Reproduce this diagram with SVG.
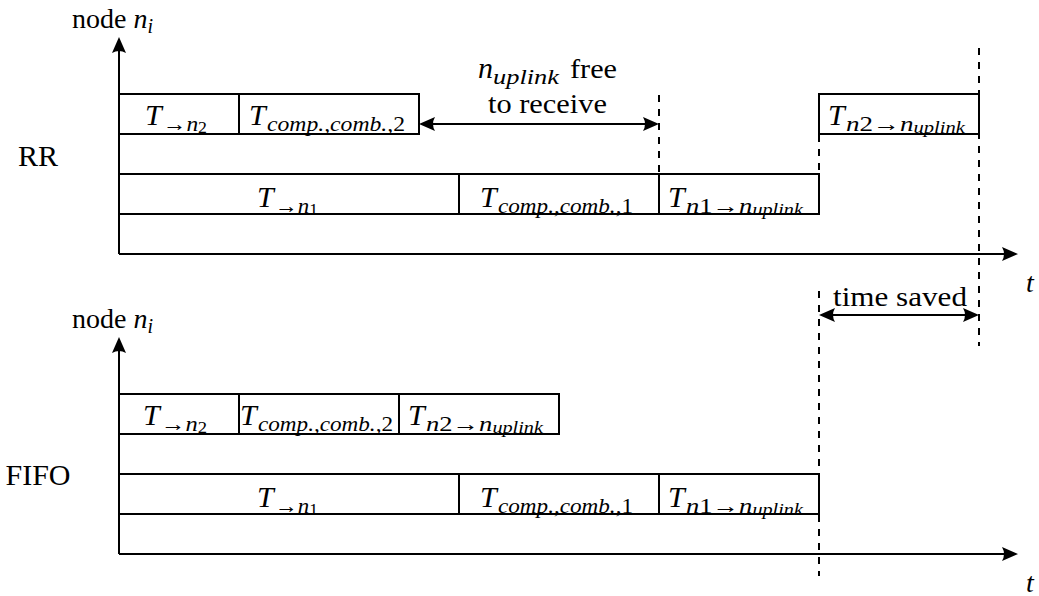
<svg xmlns="http://www.w3.org/2000/svg" width="1039" height="596" viewBox="0 0 1039 596" font-family="'Liberation Serif', 'Times New Roman', serif">
<style>
.box{fill:none;stroke:#000;stroke-width:2}
.ax{fill:none;stroke:#000;stroke-width:2}
.dash{fill:none;stroke:#000;stroke-width:2;stroke-dasharray:7 7}
text{font-family:'Liberation Serif','Times New Roman',serif;fill:#000}
.txt{font-size:28px}
.lbl{font-size:30px}
.m{font-style:italic;font-size:30px}
.s{font-size:21px}
.i{font-style:italic}
.ss{font-size:16px}
</style>
<defs>
<marker id="ah" markerUnits="userSpaceOnUse" markerWidth="20" markerHeight="20" viewBox="-10 -10 20 20" refX="0" refY="0" orient="auto-start-reverse">
<path d="M8,0 L-8,-7 Q-4,0 -8,7 Z" fill="#000"/>
</marker>
</defs>

<g id="labels">
<text class="lbl" x="38" y="166" text-anchor="middle">RR</text>
<text class="lbl" x="38" y="485" text-anchor="middle">FIFO</text>
<text class="txt" x="72" y="28">node <tspan class="i">n</tspan><tspan class="i" font-size="20" dy="5">i</tspan></text>
<text class="txt" x="72" y="328">node <tspan class="i">n</tspan><tspan class="i" font-size="20" dy="5">i</tspan></text>
<text class="txt i" x="1026" y="292">t</text>
<text class="txt i" x="1026" y="592">t</text>
</g>

<g id="connectors">
<line class="ax" x1="119" y1="254" x2="119" y2="45" marker-end="url(#ah)"/>
<line class="ax" x1="119" y1="254" x2="1010" y2="254" marker-end="url(#ah)"/>
<line class="ax" x1="119" y1="554" x2="119" y2="345" marker-end="url(#ah)"/>
<line class="ax" x1="119" y1="554" x2="1010" y2="554" marker-end="url(#ah)"/>
<line class="dash" x1="659" y1="95" x2="659" y2="174"/>
<line class="dash" x1="819" y1="135" x2="819" y2="174"/>
<line class="dash" x1="979" y1="48" x2="979" y2="346"/>
<line class="dash" x1="819" y1="291" x2="819" y2="576"/>
<line class="ax" x1="427" y1="124" x2="651" y2="124" marker-start="url(#ah)" marker-end="url(#ah)"/>
<line class="ax" x1="827" y1="315" x2="971" y2="315" marker-start="url(#ah)" marker-end="url(#ah)"/>
</g>

<g id="free-label">
<text class="m" x="478" y="78">n</text>
<text class="s i" x="493" y="84" textLength="66" lengthAdjust="spacingAndGlyphs">uplink</text>
<text class="txt" x="570" y="78" textLength="47" lengthAdjust="spacingAndGlyphs">free</text>
<text class="txt" x="488" y="113" textLength="119" lengthAdjust="spacingAndGlyphs">to receive</text>
</g>
<g id="saved-label">
<text class="txt" x="833" y="306" textLength="134" lengthAdjust="spacingAndGlyphs">time saved</text>
</g>

<!-- RR -->
<g id="rr-t-n2">
<rect class="box" x="119" y="94" width="120" height="40"/>
<text class="m" x="145" y="125">T</text>
<text class="s" x="163" y="131" textLength="44" lengthAdjust="spacingAndGlyphs">→<tspan class="i">n</tspan><tspan class="ss" dy="2">2</tspan></text>
</g>
<g id="rr-comp2">
<rect class="box" x="239" y="94" width="180" height="40"/>
<text class="m" x="249" y="125">T</text>
<text class="s" x="267" y="131" textLength="138" lengthAdjust="spacingAndGlyphs"><tspan class="i">comp.,comb.,</tspan>2</text>
</g>
<g id="rr-n2-up">
<rect class="box" x="819" y="94" width="160" height="40"/>
<text class="m" x="828" y="125">T</text>
<text class="s" x="846" y="131" textLength="119" lengthAdjust="spacingAndGlyphs"><tspan class="i">n</tspan>2→<tspan class="i">n</tspan><tspan class="i ss" dy="2">uplink</tspan></text>
</g>
<g id="rr-t-n1">
<rect class="box" x="119" y="174" width="340" height="40"/>
<text class="m" x="257" y="207">T</text>
<text class="s" x="275" y="213" textLength="43" lengthAdjust="spacingAndGlyphs">→<tspan class="i">n</tspan><tspan class="ss" dy="2">1</tspan></text>
</g>
<g id="rr-comp1">
<rect class="box" x="459" y="174" width="200" height="40"/>
<text class="m" x="480" y="207">T</text>
<text class="s" x="498" y="213" textLength="135" lengthAdjust="spacingAndGlyphs"><tspan class="i">comp.,comb.,</tspan>1</text>
</g>
<g id="rr-n1-up">
<rect class="box" x="659" y="174" width="160" height="40"/>
<text class="m" x="668" y="207">T</text>
<text class="s" x="686" y="213" textLength="117" lengthAdjust="spacingAndGlyphs"><tspan class="i">n</tspan>1→<tspan class="i">n</tspan><tspan class="i ss" dy="2">uplink</tspan></text>
</g>

<!-- FIFO -->
<g id="fifo-t-n2">
<rect class="box" x="119" y="394" width="120" height="40"/>
<text class="m" x="143" y="425">T</text>
<text class="s" x="161" y="431" textLength="46" lengthAdjust="spacingAndGlyphs">→<tspan class="i">n</tspan><tspan class="ss" dy="2">2</tspan></text>
</g>
<g id="fifo-comp2">
<rect class="box" x="239" y="394" width="160" height="40"/>
<text class="m" x="240" y="425">T</text>
<text class="s" x="258" y="431" textLength="135" lengthAdjust="spacingAndGlyphs"><tspan class="i">comp.,comb.,</tspan>2</text>
</g>
<g id="fifo-n2-up">
<rect class="box" x="399" y="394" width="160" height="40"/>
<text class="m" x="408" y="425">T</text>
<text class="s" x="426" y="431" textLength="117" lengthAdjust="spacingAndGlyphs"><tspan class="i">n</tspan>2→<tspan class="i">n</tspan><tspan class="i ss" dy="2">uplink</tspan></text>
</g>
<g id="fifo-t-n1">
<rect class="box" x="119" y="474" width="340" height="40"/>
<text class="m" x="257" y="507">T</text>
<text class="s" x="275" y="513" textLength="43" lengthAdjust="spacingAndGlyphs">→<tspan class="i">n</tspan><tspan class="ss" dy="2">1</tspan></text>
</g>
<g id="fifo-comp1">
<rect class="box" x="459" y="474" width="200" height="40"/>
<text class="m" x="480" y="507">T</text>
<text class="s" x="498" y="513" textLength="135" lengthAdjust="spacingAndGlyphs"><tspan class="i">comp.,comb.,</tspan>1</text>
</g>
<g id="fifo-n1-up">
<rect class="box" x="659" y="474" width="160" height="40"/>
<text class="m" x="668" y="507">T</text>
<text class="s" x="686" y="513" textLength="117" lengthAdjust="spacingAndGlyphs"><tspan class="i">n</tspan>1→<tspan class="i">n</tspan><tspan class="i ss" dy="2">uplink</tspan></text>
</g>
</svg>
